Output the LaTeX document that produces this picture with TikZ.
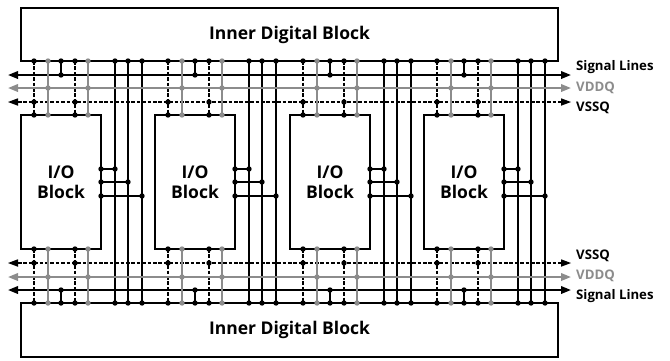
\documentclass[tikz,border=0pt]{standalone}
\usepackage{fontspec}
\setmainfont{Open Sans}
\usetikzlibrary{arrows.meta}
\definecolor{pgray}{HTML}{8C8C8C}
\tikzset{
  x=1pt,y=-1pt,
  blockbox/.style={draw=black,line width=1.8pt,fill=white,inner sep=0pt,outer sep=0pt,font=\bfseries\fontsize{17.5}{20}\selectfont,align=center},
  wire/.style={line width=2pt,black},
  dwire/.style={wire,line width=2.6pt,dash pattern=on 3.6pt off 1.8pt},
  gwire/.style={line width=2pt,pgray},
  bus/.style={{Triangle[length=10pt,width=7.5pt]}-{Triangle[length=10pt,width=7.5pt]}},
  dbus/.style={{Triangle[length=10pt,width=7.5pt,line width=0pt]}-{Triangle[length=10pt,width=7.5pt,line width=0pt]}},
  dot/.style={circle,fill=black,inner sep=0pt,minimum size=5.4pt},
  gdot/.style={dot,fill=pgray},
  lab/.style={anchor=west,inner sep=0pt,font=\bfseries\fontsize{13.2}{15}\selectfont},
}
\begin{document}
\begin{tikzpicture}
\useasboundingbox (0,0) rectangle (670,360);
% rail end points
\foreach \n/\y in {SigT/75,VddT/88,VssT/102,VssB/263,VddB/277,SigB/290}{
  \coordinate (\n L) at (8,\y);
  \coordinate (\n R) at (571,\y);
}
% port coordinates for each column group
\foreach \b/\x in {1/21,2/155,3/290,4/424}{
  \foreach \c/\d in {A/13,B/27,C/40,D/54,E/67,F/94,G/107,H/121}{
    \coordinate (t\c\b) at ({\x+\d},61);
    \coordinate (s\c\b) at ({\x+\d},75);
    \coordinate (v\c\b) at ({\x+\d},88);
    \coordinate (g\c\b) at ({\x+\d},102);
    \coordinate (i\c\b) at ({\x+\d},115);
    \coordinate (j\c\b) at ({\x+\d},249);
    \coordinate (h\c\b) at ({\x+\d},263);
    \coordinate (w\c\b) at ({\x+\d},277);
    \coordinate (r\c\b) at ({\x+\d},290);
    \coordinate (b\c\b) at ({\x+\d},303);
  }
  \coordinate (p1\b) at ({\x+80},169);
  \coordinate (q1\b) at ({\x+94},169);
  \coordinate (p2\b) at ({\x+80},182);
  \coordinate (q2\b) at ({\x+107},182);
  \coordinate (p3\b) at ({\x+80},196);
  \coordinate (q3\b) at ({\x+121},196);
}
% black wires
\foreach \b in {1,2,3,4}{
  \draw[wire] (tF\b) -- (bF\b);
  \draw[wire] (tG\b) -- (bG\b);
  \draw[wire] (tH\b) -- (bH\b);
  \draw[wire] (tC\b) -- (sC\b);
  \draw[wire] (bC\b) -- (rC\b);
  \draw[dwire] (tA\b) -- (iA\b);
  \draw[dwire] (tD\b) -- (iD\b);
  \draw[dwire] (jA\b) -- (bA\b);
  \draw[dwire] (jD\b) -- (bD\b);
  \draw[wire] (p1\b) -- (q1\b);
  \draw[wire] (p2\b) -- (q2\b);
  \draw[wire] (p3\b) -- (q3\b);
}
\draw[wire,bus] (SigTL) -- (SigTR);
\draw[wire,bus] (SigBL) -- (SigBR);
\draw[dwire,dbus] (VssTL) -- (VssTR);
\draw[dwire,dbus] (VssBL) -- (VssBR);
% gray wires
\foreach \b in {1,2,3,4}{
  \draw[gwire] (tB\b) -- (iB\b);
  \draw[gwire] (tE\b) -- (iE\b);
  \draw[gwire] (jB\b) -- (bB\b);
  \draw[gwire] (jE\b) -- (bE\b);
}
\draw[gwire,bus] (VddTL) -- (VddTR);
\draw[gwire,bus] (VddBL) -- (VddBR);
% blocks
\node[blockbox,minimum width=537pt,minimum height=53pt,anchor=north west] (top) at (21,8) {Inner Digital Block};
\node[blockbox,minimum width=537pt,minimum height=54pt,anchor=north west] (bot) at (21,303) {Inner Digital Block};
\foreach \b/\x in {1/21,2/155,3/290,4/424}{
  \node[blockbox,minimum width=80pt,minimum height=134pt,anchor=north west] (io\b) at (\x,115) {I/O\\Block};
}
% junction dots
\foreach \b in {1,2,3,4}{
  \foreach \c in {A,C,D,F,G,H}{
    \node[dot] (dt\c\b) at (t\c\b) {};
    \node[dot] (db\c\b) at (b\c\b) {};
  }
  \foreach \c in {A,D}{
    \node[dot] (dg\c\b) at (g\c\b) {};
    \node[dot] (di\c\b) at (i\c\b) {};
    \node[dot] (dj\c\b) at (j\c\b) {};
    \node[dot] (dh\c\b) at (h\c\b) {};
  }
  \node[dot] (dsC\b) at (sC\b) {};
  \node[dot] (drC\b) at (rC\b) {};
  \foreach \c in {B,E}{
    \node[gdot] (gt\c\b) at (t\c\b) {};
    \node[gdot] (gv\c\b) at (v\c\b) {};
    \node[gdot] (gi\c\b) at (i\c\b) {};
    \node[gdot] (gj\c\b) at (j\c\b) {};
    \node[gdot] (gw\c\b) at (w\c\b) {};
    \node[gdot] (gb\c\b) at (b\c\b) {};
  }
  \foreach \k in {1,2,3}{
    \node[dot] (dp\k\b) at (p\k\b) {};
    \node[dot] (dq\k\b) at (q\k\b) {};
  }
}
% labels
\node[lab] (l1) at (576,67) {Signal Lines};
\node[lab,text=pgray] (l2) at (576,88) {VDDQ};
\node[lab] (l3) at (576,107.5) {VSSQ};
\node[lab] (l4) at (576,256) {VSSQ};
\node[lab,text=pgray] (l5) at (576,276) {VDDQ};
\node[lab] (l6) at (576,296) {Signal Lines};
\end{tikzpicture}
\end{document}
